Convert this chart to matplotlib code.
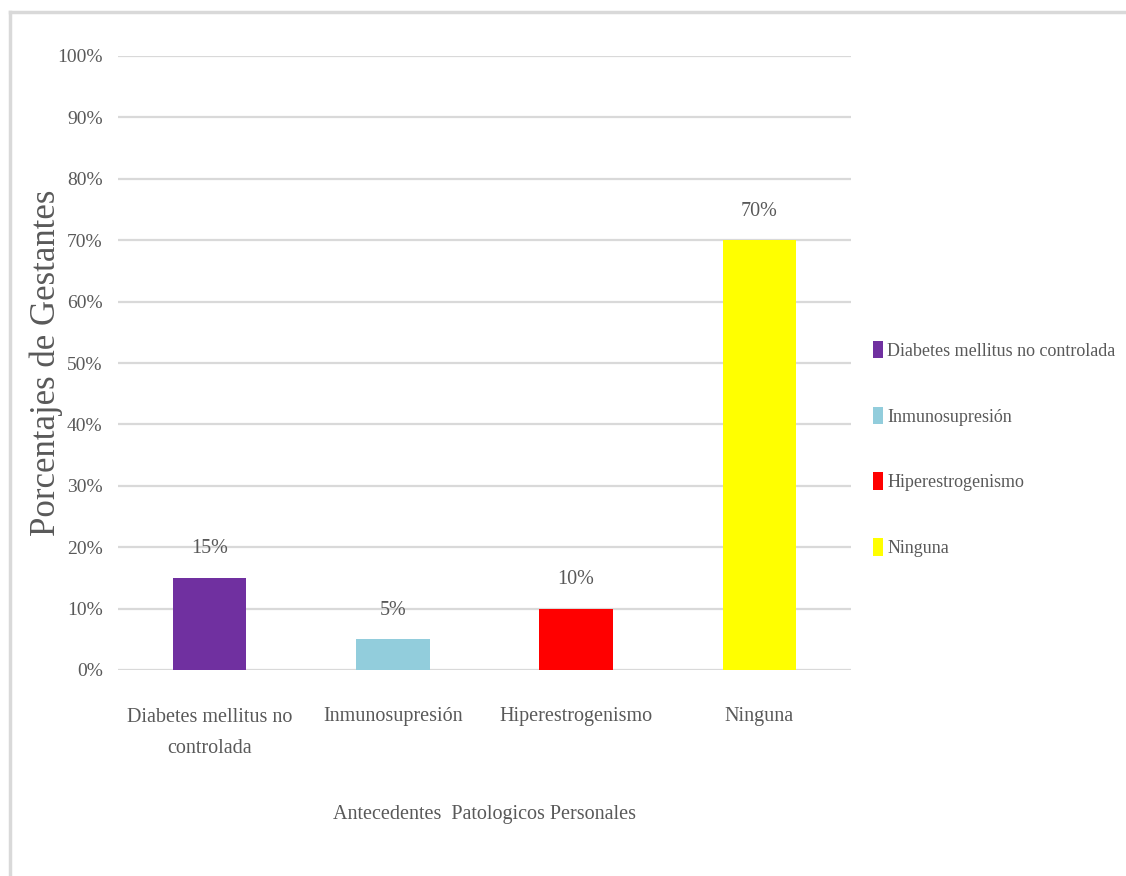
import matplotlib

matplotlib.use("Agg")
import matplotlib.pyplot as plt
from matplotlib.lines import Line2D
from matplotlib.patches import Patch
from matplotlib.ticker import PercentFormatter

categories = ["Diabetes mellitus no controlada", "Inmunosupresión", "Hiperestrogenismo", "Ninguna"]
tick_labels = ["Diabetes mellitus no\ncontrolada", "Inmunosupresión", "Hiperestrogenismo", "Ninguna"]
values = [0.15, 0.05, 0.10, 0.70]
colors = ["#7030A0", "#92CDDC", "#FF0000", "#FFFF00"]

TEXT = "#595959"
GRID = "#D9D9D9"
plt.rcParams["font.family"] = ["Liberation Serif", "DejaVu Serif"]

W, H = 1126, 876
fig = plt.figure(figsize=(W / 100, H / 100), dpi=100)
ax = fig.add_axes([118 / W, 1 - 670 / H, (851 - 118) / W, (670 - 56) / H])

x = range(len(categories))
bars = ax.bar(x, values, width=0.4, color=colors, zorder=3)
ax.bar_label(bars, labels=[f"{v:.0%}" for v in values], padding=14,
             fontsize=14.5, color=TEXT)

ax.set_xlim(-0.5, len(categories) - 0.5)
ax.set_ylim(0, 1)
ax.set_yticks([i / 10 for i in range(11)])
ax.yaxis.set_major_formatter(PercentFormatter(1.0, decimals=0))
ax.grid(axis="y", color=GRID, linewidth=1.6, zorder=0)
ax.set_axisbelow(True)
for s in ax.spines.values():
    s.set_visible(False)
ax.tick_params(axis="both", length=0, colors=TEXT)
ax.tick_params(axis="y", pad=11, labelsize=14)
ax.set_xticks(list(x))
ax.set_xticklabels(tick_labels, fontsize=14.5, linespacing=1.9)
ax.tick_params(axis="x", pad=27)

ax.set_xlabel("Antecedentes  Patologicos Personales", fontsize=14.5, color=TEXT)
ax.xaxis.set_label_coords(0.5, -0.22)
ax.set_ylabel("Porcentajes de Gestantes", fontsize=25, color=TEXT)
ax.yaxis.set_label_coords(-0.075, 0.5)

handles = [Patch(facecolor=c, edgecolor="none") for c in colors]
fig.legend(handles, categories, loc="center left",
           bbox_to_anchor=(873 / W, 1 - 449 / H), frameon=False,
           fontsize=13, labelcolor=TEXT, handlelength=0.55,
           handleheight=1.1, handletextpad=0.25, labelspacing=2.6,
           borderaxespad=0, borderpad=0)

# light frame edges along the top and left
fig.add_artist(Line2D([10 / W, 1], [1 - 12 / H, 1 - 12 / H], color=GRID,
                      linewidth=2.5, transform=fig.transFigure))
fig.add_artist(Line2D([10 / W, 10 / W], [0, 1 - 12 / H], color=GRID,
                      linewidth=2.5, transform=fig.transFigure))

fig.savefig("out.png", dpi=100)
